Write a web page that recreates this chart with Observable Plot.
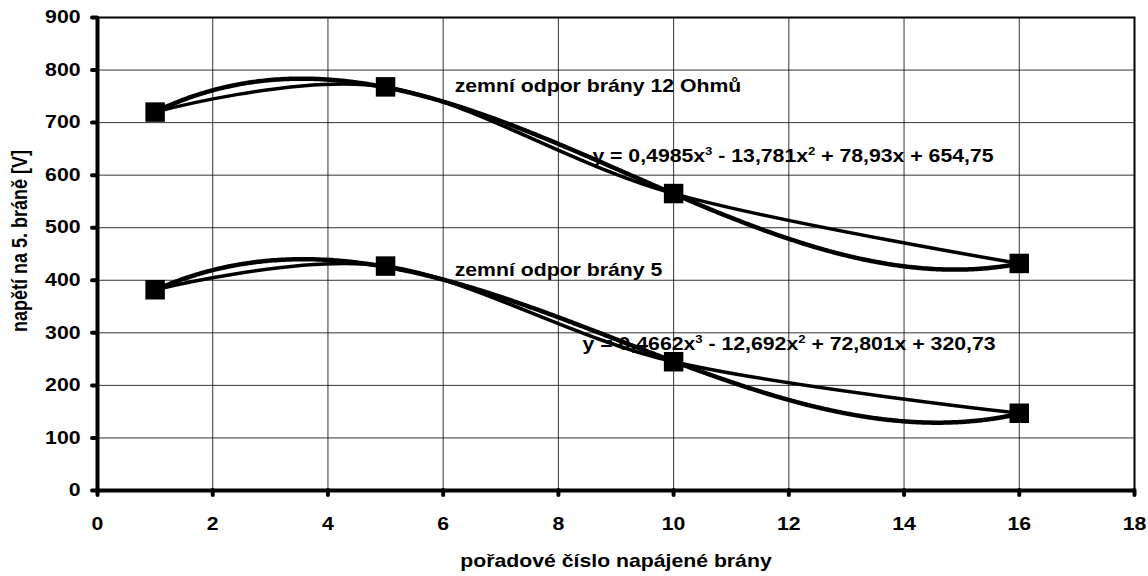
<!DOCTYPE html>
<html>
<head>
<meta charset="utf-8">
<script src="https://cdn.jsdelivr.net/npm/d3@7"></script>
<script src="https://cdn.jsdelivr.net/npm/@observablehq/plot@0.6"></script>
<style>
  html, body { margin: 0; padding: 0; background: #fff; }
  #chart svg { display: block; }
  #chart svg text { font-weight: bold; fill: #000; }
</style>
</head>
<body>
<div id="chart"></div>
<script>
// Gate number that was fed, and the voltage measured on gate 5
const gates = [1, 5, 10, 16];
const voltage12 = [720, 768, 565, 432];   // gate earth resistance 12 Ohm
const voltage5 = [382, 427, 245, 147];    // gate earth resistance 5 Ohm

// Cubic trendline coefficients (x^3, x^2, x, 1) as printed next to each series
const coef12 = [0.4985, -13.781, 78.93, 654.75];
const coef5 = [0.4662, -12.692, 72.801, 320.73];

const seriesNames = ["zemní odpor brány 12 Ohmů", "zemní odpor brány 5"];
// "^n" marks an exponent, set as a raised tspan after rendering
const equations = [
  "y = 0,4985x^3 - 13,781x^2 + 78,93x + 654,75",
  "y = 0,4662x^3 - 12,692x^2 + 72,801x + 320,73"
];

const xTicks = d3.range(0, 19, 2);
const yTicks = d3.range(0, 901, 100);

const points = [
  ...gates.map((g, i) => ({series: "12", x: g, y: voltage12[i]})),
  ...gates.map((g, i) => ({series: "5", x: g, y: voltage5[i]}))
];

const cubic = (c, x) => ((c[0] * x + c[1]) * x + c[2]) * x + c[3];
const xs = d3.range(gates[0], gates[gates.length - 1] + 0.001, 0.05);
const trend = [
  ...xs.map(x => ({series: "12", x, y: cubic(coef12, x)})),
  ...xs.map(x => ({series: "5", x, y: cubic(coef5, x)}))
];

const font = "'Liberation Sans', Arial, sans-serif";
const fs = 18;

const chart = Plot.plot({
  width: 1148,
  height: 576,
  marginLeft: 97,
  marginRight: 14,
  marginTop: 17,
  marginBottom: 86,
  style: {fontFamily: font, fontSize: fs + "px", fontWeight: "bold", color: "#000", background: "#fff"},
  x: {domain: [0, 18], ticks: xTicks},
  y: {domain: [0, 900], ticks: yTicks},
  marks: [
    Plot.gridX(xTicks, {stroke: "#000", strokeOpacity: 0.8, strokeWidth: 1}),
    Plot.gridY(yTicks, {stroke: "#000", strokeOpacity: 0.8, strokeWidth: 1}),
    Plot.frame({stroke: "#000", strokeWidth: 2}),
    Plot.ruleX([0], {stroke: "#000", strokeWidth: 4}),
    Plot.ruleY([0], {stroke: "#000", strokeWidth: 4}),
    Plot.axisX({ticks: xTicks, tickSize: 5, tickPadding: 22, strokeWidth: 4, strokeLinecap: "round",
      label: null, fontSize: fs}),
    Plot.axisY({ticks: yTicks, tickSize: 5, tickPadding: 12, strokeWidth: 4, strokeLinecap: "round",
      label: null, fontSize: fs}),
    // Axis titles
    Plot.text(["pořadové číslo napájené brány"], {frameAnchor: "bottom", lineAnchor: "middle", textAnchor: "middle",
      dy: 71, fontSize: fs}),
    Plot.text(["napětí na 5. bráně [V]"], {frameAnchor: "left", lineAnchor: "middle", textAnchor: "middle",
      dx: -77, dy: -13, rotate: -90, fontSize: fs}),
    // Smoothed line through the measured points
    Plot.line(points, {x: "x", y: "y", z: "series", curve: "cardinal", stroke: "#000", strokeWidth: 3.5}),
    // Cubic trendlines
    Plot.line(trend, {x: "x", y: "y", z: "series", stroke: "#000", strokeWidth: 4.5, strokeDasharray: "3,1"}),
    // Markers
    Plot.dot(points, {x: "x", y: "y", symbol: "square", r: 11, fill: "#000", stroke: "none"}),
    // Series labels and trendline equations
    Plot.text([seriesNames[0]], {x: 6.2, y: 769, textAnchor: "start", fontSize: fs}),
    Plot.text([equations[0]], {x: 8.59, y: 636, textAnchor: "start", fontSize: fs}),
    Plot.text([seriesNames[1]], {x: 6.2, y: 419, textAnchor: "start", fontSize: fs}),
    Plot.text([equations[1]], {x: 8.42, y: 278, textAnchor: "start", fontSize: fs})
  ]
});

document.getElementById("chart").append(chart);

// Raise exponents written as "^n"
const SVGNS = "http://www.w3.org/2000/svg";
chart.querySelectorAll("text").forEach(t => {
  const s = t.textContent;
  if (!s.includes("^")) return;
  t.textContent = "";
  s.split(/\^(\d)/).forEach((part, i) => {
    if (!part) return;
    const ts = document.createElementNS(SVGNS, "tspan");
    ts.textContent = part;
    if (i % 2) {
      ts.setAttribute("font-size", "62%");
      ts.setAttribute("dy", "-7");
    } else if (i > 0) {
      ts.setAttribute("dy", "7");
    }
    t.append(ts);
  });
});

// Widen all lettering horizontally around its anchor
const stretch = 1.18;
chart.querySelectorAll("text").forEach(t => {
  const b = t.getBBox();
  const tr = t.getAttribute("transform") || "";
  if (/rotate/.test(tr)) {
    const cy = b.y + b.height / 2;
    t.setAttribute("transform", `${tr} translate(0,${cy}) scale(1,${stretch}) translate(0,${-cy})`);
    return;
  }
  const anchor = getComputedStyle(t).textAnchor;
  const ax = anchor === "middle" ? b.x + b.width / 2 : anchor === "end" ? b.x + b.width : b.x;
  t.setAttribute("transform", `${tr} translate(${ax},0) scale(${stretch},1) translate(${-ax},0)`);
});
</script>
</body>
</html>
